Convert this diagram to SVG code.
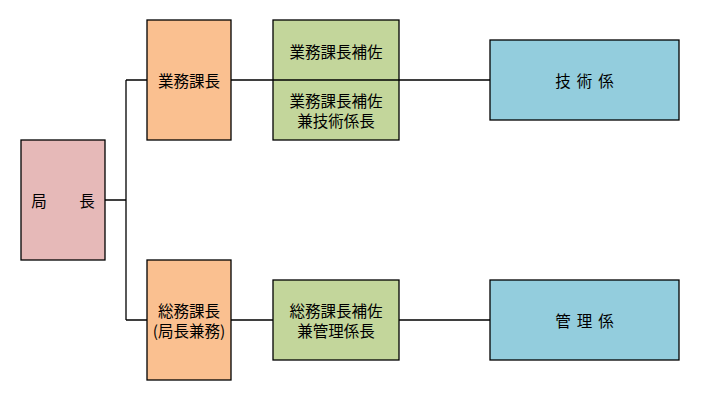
<svg xmlns="http://www.w3.org/2000/svg" width="701" height="401" viewBox="0 0 701 401">
<style>
.box{stroke:#000;stroke-width:1.3}
.pink{fill:#E6B9B8}
.orange{fill:#FAC090}
.green{fill:#C3D69B}
.blue{fill:#93CDDD}
text{font-family:"Noto Sans CJK JP","Noto Sans CJK SC",sans-serif;font-size:15.5px;fill:#000;text-anchor:middle;dominant-baseline:central}
.spaced{letter-spacing:6px}
.conn{stroke:#000;stroke-width:1.3;fill:none}
</style>
<rect width="701" height="401" fill="#fff"/>
<g id="n-kyokucho">
<rect class="box pink" x="21" y="140" width="84" height="120"/>
<text x="39" y="200">局</text>
<text x="87" y="200">長</text>
</g>
<g id="n-gyomu-kacho">
<rect class="box orange" x="147" y="20" width="84" height="120"/>
<text x="189" y="80">業務課長</text>
</g>
<g id="n-gyomu-hosa">
<rect class="box green" x="273" y="20" width="126" height="120"/>
<text x="336" y="51">業務課長補佐</text>
<text x="336" y="100">業務課長補佐</text>
<text x="336" y="120">兼技術係長</text>
</g>
<g id="n-gijutsu">
<rect class="box blue" x="490" y="40" width="189" height="80"/>
<text class="spaced" x="587.5" y="80">技術係</text>
</g>
<g id="n-somu-kacho">
<rect class="box orange" x="147" y="260" width="84" height="120"/>
<text x="189" y="310">総務課長</text>
<text x="189" y="330">(局長兼務)</text>
</g>
<g id="n-somu-hosa">
<rect class="box green" x="273" y="280" width="126" height="80"/>
<text x="336" y="310">総務課長補佐</text>
<text x="336" y="330">兼管理係長</text>
</g>
<g id="n-kanri">
<rect class="box blue" x="490" y="280" width="189" height="80"/>
<text class="spaced" x="587.5" y="320">管理係</text>
</g>
<g id="connectors">
<path class="conn" d="M105,200 H126 M126,80 V320 M126,80 H147 M231,80 H490 M126,320 H147 M231,320 H273 M399,320 H490"/>
</g>
</svg>
